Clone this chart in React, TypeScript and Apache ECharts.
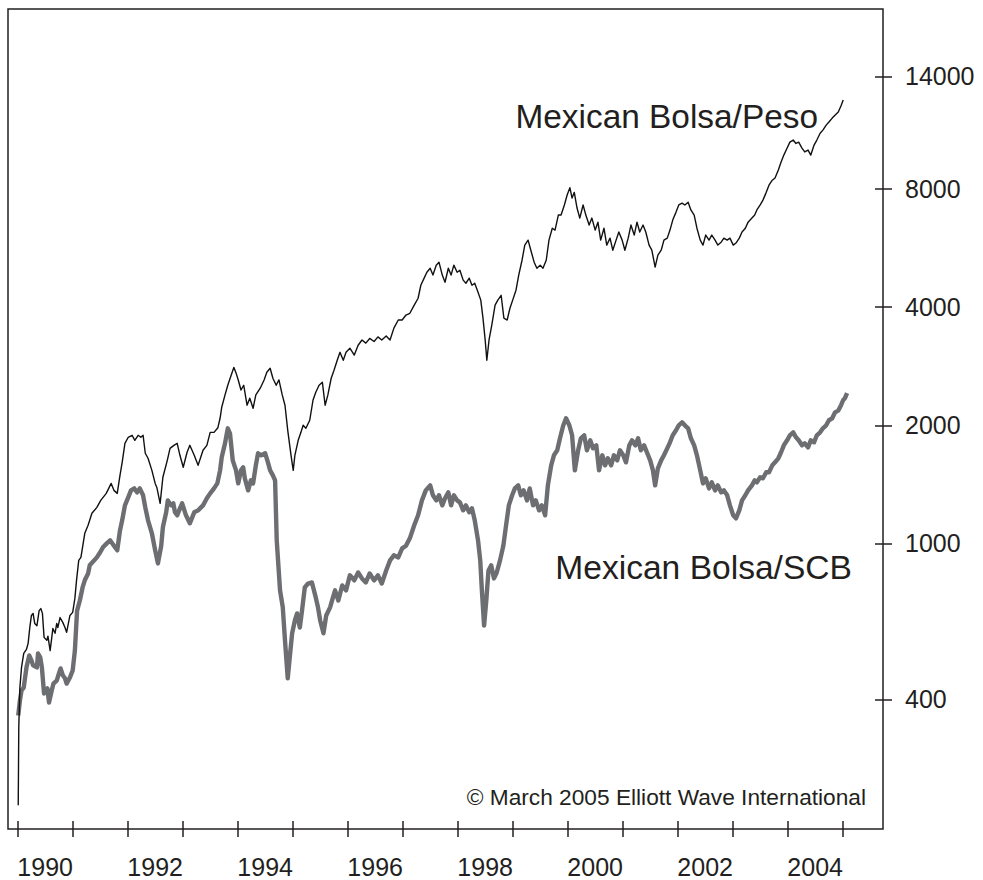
import React, { useEffect, useRef } from "react";
import * as echarts from "echarts";

// ---- axis ticks -------------------------------------------------------
const xTickYears = [1990, 1991, 1992, 1993, 1994, 1995, 1996, 1997, 1998, 1999, 2000, 2001, 2002, 2003, 2004, 2005];
// year labels are printed centred on the middle of the year
const xLabelYears = [1990, 1992, 1994, 1996, 1998, 2000, 2002, 2004];
const yTickLabels = ["400", "1000", "2000", "4000", "8000", "14000"];
// positions (index level) where the printed labels sit on the log scale of the reference
const yTickLevels = [400, 1000, 2000, 4000, 8000, 15500];
const xRange = [1989.824, 2005.733];
const yRange = [187, 23030];

// ---- series: [year, index level] --------------------------------------
const pesoData: number[][] = [
  [1990.01, 215], [1990.02, 339], [1990.04, 429], [1990.07, 483], [1990.11, 524], [1990.16, 537], [1990.19, 556],
  [1990.22, 610], [1990.25, 655], [1990.28, 663], [1990.31, 625], [1990.35, 617], [1990.39, 674], [1990.42, 682],
  [1990.45, 663], [1990.48, 576], [1990.53, 566], [1990.55, 580], [1990.59, 533], [1990.62, 576], [1990.64, 607],
  [1990.68, 590], [1990.71, 625], [1990.73, 610], [1990.77, 647], [1990.82, 629], [1990.86, 610], [1990.89, 593],
  [1990.95, 655], [1991.0, 667], [1991.04, 724], [1991.07, 805], [1991.11, 905], [1991.15, 921], [1991.22, 1061],
  [1991.28, 1112], [1991.35, 1193], [1991.44, 1235], [1991.51, 1287], [1991.61, 1341], [1991.7, 1422], [1991.75, 1365],
  [1991.81, 1341], [1991.86, 1491], [1991.9, 1609], [1991.95, 1799], [1992.01, 1864], [1992.08, 1886], [1992.13, 1831],
  [1992.19, 1886], [1992.24, 1864], [1992.28, 1886], [1992.32, 1697], [1992.37, 1648], [1992.44, 1535], [1992.5, 1422],
  [1992.53, 1389], [1992.59, 1265], [1992.64, 1474], [1992.72, 1628], [1992.77, 1747], [1992.84, 1778], [1992.9, 1799],
  [1992.95, 1677], [1993.01, 1563], [1993.08, 1707], [1993.13, 1778], [1993.21, 1677], [1993.28, 1581], [1993.37, 1727],
  [1993.44, 1778], [1993.5, 1919], [1993.57, 1919], [1993.64, 1972], [1993.68, 2084], [1993.71, 2224], [1993.77, 2390],
  [1993.82, 2530], [1993.88, 2680], [1993.93, 2810], [1993.97, 2720], [1994.01, 2610], [1994.06, 2460], [1994.11, 2530],
  [1994.17, 2250], [1994.22, 2344], [1994.28, 2210], [1994.33, 2390], [1994.41, 2486], [1994.48, 2610], [1994.53, 2730],
  [1994.59, 2796], [1994.64, 2636], [1994.7, 2530], [1994.75, 2610], [1994.81, 2390], [1994.86, 2250], [1994.91, 1942],
  [1994.97, 1677], [1995.01, 1535], [1995.04, 1677], [1995.1, 1831], [1995.15, 1919], [1995.19, 2000], [1995.24, 1965],
  [1995.31, 2060], [1995.37, 2320], [1995.42, 2428], [1995.48, 2530], [1995.54, 2574], [1995.59, 2250], [1995.64, 2390],
  [1995.7, 2636], [1995.75, 2760], [1995.81, 2930], [1995.86, 3070], [1995.92, 2930], [1995.97, 3070], [1996.04, 3144],
  [1996.12, 3020], [1996.19, 3200], [1996.26, 3300], [1996.33, 3240], [1996.4, 3330], [1996.48, 3270], [1996.55, 3360],
  [1996.62, 3300], [1996.7, 3380], [1996.77, 3300], [1996.84, 3538], [1996.92, 3710], [1996.99, 3710], [1997.06, 3820],
  [1997.13, 3860], [1997.21, 4050], [1997.28, 4216], [1997.33, 4550], [1997.39, 4744], [1997.44, 4910], [1997.5, 5028],
  [1997.55, 4830], [1997.61, 5120], [1997.66, 5210], [1997.72, 4830], [1997.77, 4632], [1997.83, 5028], [1997.88, 4830],
  [1997.93, 5120], [1997.99, 4910], [1998.04, 4970], [1998.1, 4690], [1998.15, 4604], [1998.21, 4744], [1998.26, 4550],
  [1998.31, 4604], [1998.37, 4368], [1998.42, 4170], [1998.46, 3750], [1998.5, 3300], [1998.53, 2930], [1998.57, 3300],
  [1998.62, 3600], [1998.68, 4050], [1998.73, 4170], [1998.79, 4290], [1998.84, 3750], [1998.9, 3710], [1998.95, 3975],
  [1999.0, 4170], [1999.06, 4420], [1999.11, 4830], [1999.17, 5270], [1999.22, 5760], [1999.28, 5930], [1999.33, 5590],
  [1999.39, 5210], [1999.44, 5028], [1999.5, 5120], [1999.55, 5028], [1999.61, 5270], [1999.66, 5930], [1999.72, 6360],
  [1999.77, 6290], [1999.83, 6870], [1999.88, 6870], [1999.94, 7290], [1999.99, 7730], [2000.04, 8070], [2000.08, 7590],
  [2000.12, 7850], [2000.17, 7160], [2000.22, 6750], [2000.28, 7290], [2000.33, 6870], [2000.39, 6480], [2000.44, 6750],
  [2000.5, 6290], [2000.55, 6590], [2000.6, 5930], [2000.66, 6360], [2000.71, 5760], [2000.77, 6000], [2000.82, 5590],
  [2000.88, 5930], [2000.93, 6220], [2000.99, 5930], [2001.04, 5590], [2001.1, 6000], [2001.15, 6480], [2001.21, 6110],
  [2001.26, 6590], [2001.31, 6220], [2001.37, 6480], [2001.42, 6220], [2001.48, 5760], [2001.53, 5590], [2001.59, 5060],
  [2001.64, 5430], [2001.7, 5590], [2001.75, 5930], [2001.81, 6000], [2001.86, 6290], [2001.91, 6670], [2001.97, 6990],
  [2002.02, 7290], [2002.08, 7370], [2002.13, 7290], [2002.19, 7410], [2002.24, 7080], [2002.3, 6870], [2002.35, 6360],
  [2002.41, 5930], [2002.46, 5760], [2002.51, 6110], [2002.57, 5930], [2002.62, 6110], [2002.68, 5930], [2002.73, 5760],
  [2002.79, 5860], [2002.84, 6000], [2002.9, 5930], [2002.95, 6000], [2003.01, 5760], [2003.06, 5830], [2003.12, 6000],
  [2003.17, 6220], [2003.23, 6360], [2003.28, 6590], [2003.35, 6750], [2003.4, 6870], [2003.44, 7080], [2003.5, 7290],
  [2003.55, 7500], [2003.61, 7850], [2003.66, 8190], [2003.72, 8430], [2003.77, 8540], [2003.83, 8950], [2003.88, 9380],
  [2003.93, 9770], [2003.99, 10180], [2004.04, 10540], [2004.1, 10670], [2004.15, 10460], [2004.2, 10540], [2004.26, 10180],
  [2004.31, 9950], [2004.37, 10060], [2004.42, 9770], [2004.48, 10360], [2004.53, 10670], [2004.59, 11110], [2004.64, 11310],
  [2004.7, 11650], [2004.75, 11860], [2004.81, 12140], [2004.86, 12350], [2004.92, 12580], [2004.97, 13050], [2005.01, 13490],
];

const scbData: number[][] = [
  [1990.01, 364], [1990.04, 397], [1990.07, 422], [1990.11, 429], [1990.16, 483], [1990.21, 518], [1990.25, 503],
  [1990.28, 489], [1990.35, 483], [1990.37, 524], [1990.41, 512], [1990.44, 483], [1990.48, 414], [1990.51, 422],
  [1990.54, 427], [1990.57, 393], [1990.62, 422], [1990.65, 439], [1990.71, 447], [1990.75, 466], [1990.78, 480],
  [1990.82, 461], [1990.86, 453], [1990.89, 439], [1990.95, 455], [1991.0, 474], [1991.04, 533], [1991.08, 674],
  [1991.13, 715], [1991.18, 772], [1991.22, 805], [1991.28, 838], [1991.31, 879], [1991.44, 921], [1991.5, 949],
  [1991.55, 977], [1991.62, 1000], [1991.68, 1018], [1991.75, 986], [1991.81, 960], [1991.86, 1079], [1991.9, 1145],
  [1991.95, 1250], [1992.01, 1310], [1992.06, 1365], [1992.12, 1381], [1992.17, 1349], [1992.22, 1381], [1992.28, 1326],
  [1992.32, 1235], [1992.37, 1145], [1992.44, 1061], [1992.5, 960], [1992.55, 889], [1992.61, 986], [1992.64, 1099],
  [1992.7, 1200], [1992.73, 1287], [1992.79, 1250], [1992.83, 1265], [1992.86, 1200], [1992.9, 1179], [1992.95, 1228],
  [1992.99, 1265], [1993.06, 1179], [1993.13, 1125], [1993.21, 1200], [1993.28, 1214], [1993.37, 1250], [1993.44, 1303],
  [1993.5, 1341], [1993.57, 1381], [1993.63, 1422], [1993.68, 1535], [1993.71, 1657], [1993.77, 1799], [1993.82, 1965],
  [1993.86, 1908], [1993.91, 1628], [1993.97, 1535], [1994.01, 1422], [1994.06, 1535], [1994.1, 1563], [1994.13, 1465],
  [1994.19, 1365], [1994.24, 1448], [1994.28, 1422], [1994.33, 1581], [1994.37, 1697], [1994.43, 1677], [1994.5, 1697],
  [1994.55, 1609], [1994.59, 1535], [1994.64, 1491], [1994.68, 1448], [1994.71, 1018], [1994.77, 759], [1994.82, 687],
  [1994.86, 566], [1994.91, 453], [1994.95, 518], [1994.99, 590], [1995.04, 636], [1995.08, 663], [1995.13, 610],
  [1995.17, 674], [1995.22, 772], [1995.28, 790], [1995.35, 795], [1995.41, 737], [1995.46, 687], [1995.5, 636],
  [1995.56, 590], [1995.61, 655], [1995.68, 687], [1995.77, 759], [1995.83, 715], [1995.9, 781], [1995.97, 759],
  [1996.04, 829], [1996.12, 805], [1996.19, 843], [1996.26, 814], [1996.33, 795], [1996.4, 838], [1996.48, 805],
  [1996.55, 829], [1996.62, 790], [1996.7, 853], [1996.77, 905], [1996.84, 932], [1996.92, 921], [1996.99, 971],
  [1997.06, 986], [1997.13, 1030], [1997.21, 1112], [1997.28, 1179], [1997.35, 1287], [1997.42, 1365], [1997.5, 1406],
  [1997.55, 1326], [1997.61, 1287], [1997.66, 1326], [1997.72, 1250], [1997.77, 1303], [1997.83, 1349], [1997.88, 1250],
  [1997.93, 1326], [1997.99, 1287], [1998.04, 1272], [1998.1, 1214], [1998.15, 1250], [1998.21, 1200], [1998.26, 1228],
  [1998.31, 1145], [1998.37, 1018], [1998.41, 905], [1998.44, 759], [1998.48, 617], [1998.52, 715], [1998.56, 853],
  [1998.61, 879], [1998.66, 814], [1998.71, 843], [1998.77, 905], [1998.83, 986], [1998.88, 1112], [1998.93, 1250],
  [1998.99, 1326], [1999.04, 1381], [1999.1, 1406], [1999.15, 1326], [1999.2, 1365], [1999.26, 1287], [1999.31, 1381],
  [1999.37, 1250], [1999.42, 1287], [1999.48, 1214], [1999.53, 1250], [1999.59, 1179], [1999.64, 1406], [1999.7, 1581],
  [1999.75, 1677], [1999.81, 1727], [1999.86, 1853], [1999.92, 2000], [1999.97, 2084], [2000.03, 2000], [2000.08, 1886],
  [2000.13, 1535], [2000.19, 1727], [2000.24, 1853], [2000.3, 1886], [2000.35, 1727], [2000.41, 1831], [2000.46, 1747],
  [2000.52, 1778], [2000.57, 1535], [2000.63, 1677], [2000.68, 1581], [2000.73, 1648], [2000.79, 1581], [2000.84, 1677],
  [2000.9, 1628], [2000.95, 1727], [2001.01, 1677], [2001.06, 1609], [2001.12, 1778], [2001.17, 1831], [2001.23, 1778],
  [2001.28, 1853], [2001.33, 1727], [2001.39, 1778], [2001.44, 1707], [2001.5, 1628], [2001.55, 1535], [2001.59, 1406],
  [2001.64, 1553], [2001.7, 1628], [2001.75, 1677], [2001.81, 1747], [2001.86, 1810], [2001.91, 1886], [2001.97, 1942],
  [2002.02, 2000], [2002.08, 2036], [2002.13, 2000], [2002.19, 1965], [2002.24, 1853], [2002.3, 1778], [2002.35, 1677],
  [2002.41, 1535], [2002.46, 1422], [2002.51, 1465], [2002.57, 1381], [2002.62, 1431], [2002.68, 1365], [2002.73, 1406],
  [2002.79, 1349], [2002.84, 1365], [2002.9, 1326], [2002.95, 1250], [2003.01, 1179], [2003.06, 1158], [2003.12, 1214],
  [2003.17, 1287], [2003.23, 1326], [2003.28, 1365], [2003.35, 1406], [2003.4, 1448], [2003.44, 1431], [2003.5, 1474],
  [2003.55, 1465], [2003.61, 1518], [2003.66, 1518], [2003.72, 1581], [2003.77, 1609], [2003.83, 1648], [2003.88, 1707],
  [2003.93, 1778], [2003.99, 1831], [2004.04, 1886], [2004.1, 1919], [2004.15, 1864], [2004.2, 1831], [2004.26, 1778],
  [2004.31, 1799], [2004.37, 1757], [2004.42, 1831], [2004.48, 1810], [2004.53, 1886], [2004.59, 1919], [2004.64, 1965],
  [2004.7, 2000], [2004.75, 2060], [2004.81, 2084], [2004.86, 2158], [2004.92, 2180], [2004.97, 2250], [2005.01, 2320],
  [2005.04, 2344], [2005.08, 2414],
];

const INK = "#231f20";
const GREY = "#6d6e71";
const FONT = "'Liberation Sans', Arial, Helvetica, sans-serif";

const lg = (v: number) => Math.log2(v);

export default function App() {
  const ref = useRef<HTMLDivElement>(null);

  useEffect(() => {
    if (!ref.current) return;
    const chart = echarts.init(ref.current, undefined, { renderer: "svg" });
    const yTickPos = yTickLevels.map(lg);
    chart.setOption({
      animation: false,
      backgroundColor: "#ffffff",
      grid: {
        left: 8,
        right: 100,
        top: 9,
        bottom: 51,
        show: true,
        borderColor: INK,
        borderWidth: 1.5,
        backgroundColor: "transparent",
      },
      xAxis: {
        type: "value",
        min: xRange[0],
        max: xRange[1],
        offset: -8,
        axisLine: { show: false },
        splitLine: { show: false },
        axisTick: {
          show: true,
          customValues: xTickYears,
          length: 16,
          lineStyle: { color: INK, width: 1.5 },
        },
        axisLabel: {
          show: true,
          customValues: xLabelYears.map((y) => y + 0.5),
          formatter: (v: number) => String(Math.floor(v)),
          margin: 33,
          fontSize: 25,
          fontFamily: FONT,
          color: INK,
        },
      },
      yAxis: {
        type: "value",
        position: "right",
        min: lg(yRange[0]),
        max: lg(yRange[1]),
        offset: -8,
        axisLine: { show: false },
        splitLine: { show: false },
        axisTick: {
          show: true,
          customValues: yTickPos,
          length: 17,
          lineStyle: { color: INK, width: 1.5 },
        },
        axisLabel: {
          show: true,
          customValues: yTickPos,
          formatter: (v: number) => {
            const i = yTickPos.findIndex((p) => Math.abs(p - v) < 1e-6);
            return i >= 0 ? yTickLabels[i] : "";
          },
          margin: 30,
          fontSize: 25,
          fontFamily: FONT,
          color: INK,
        },
      },
      series: [
        {
          name: "Mexican Bolsa/SCB",
          type: "line",
          data: scbData.map(([t, v]) => [t, lg(v)]),
          showSymbol: false,
          smooth: false,
          lineStyle: { color: GREY, width: 4.4, join: "round" },
          itemStyle: { color: GREY },
          z: 2,
        },
        {
          name: "Mexican Bolsa/Peso",
          type: "line",
          data: pesoData.map(([t, v]) => [t, lg(v)]),
          showSymbol: false,
          smooth: false,
          lineStyle: { color: "#111111", width: 1.4, join: "round" },
          itemStyle: { color: "#111111" },
          z: 3,
        },
      ],
      graphic: [
        {
          type: "text",
          x: 818,
          y: 116,
          style: {
            text: "Mexican Bolsa/Peso",
            fill: INK,
            font: `33.4px ${FONT}`,
            align: "right",
            verticalAlign: "middle",
          },
        },
        {
          type: "text",
          x: 852,
          y: 567,
          style: {
            text: "Mexican Bolsa/SCB",
            fill: INK,
            font: `33.6px ${FONT}`,
            align: "right",
            verticalAlign: "middle",
          },
        },
        {
          type: "text",
          x: 866,
          y: 797,
          style: {
            text: "© March 2005 Elliott Wave International",
            fill: INK,
            font: `22.7px ${FONT}`,
            align: "right",
            verticalAlign: "middle",
          },
        },
      ],
    });
    return () => chart.dispose();
  }, []);

  return (
    <div
      ref={ref}
      style={{ position: "absolute", left: 0, top: 0, width: 983, height: 880, background: "#fff" }}
    />
  );
}
